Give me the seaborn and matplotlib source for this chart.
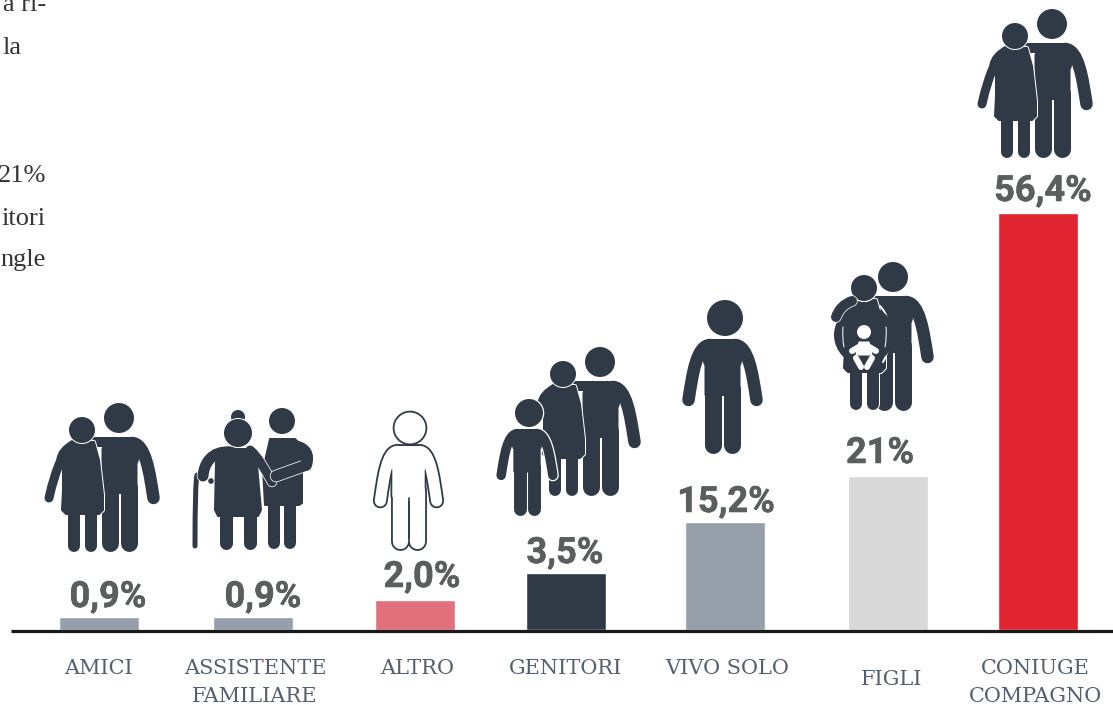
import matplotlib
matplotlib.use("Agg")
import matplotlib.pyplot as plt
import matplotlib.patheffects as pe
import seaborn as sns
import pandas as pd
from matplotlib.path import Path
from matplotlib.patches import PathPatch, Circle, Polygon

# ---- data
categories = ["AMICI", "ASSISTENTE\nFAMILIARE", "ALTRO", "GENITORI", "VIVO SOLO", "FIGLI", "CONIUGE\nCOMPAGNO"]
value_labels = ["0,9%", "0,9%", "2,0%", "3,5%", "15,2%", "21%", "56,4%"]
bar_positions = [99, 253, 415, 566, 725, 888, 1038]
bar_heights = [13, 13, 30, 57, 108, 154, 417]   # drawn height, as in the reference
bar_colors = ["#979fab", "#979fab", "#e0717c", "#303a47", "#979fab", "#d9d9d9", "#e02431"]

# ---- placement of the texts (pixels of the picture)
value_x = [108, 263, 422, 565, 726, 880, 1043]
value_base = [608, 608, 588, 564, 513, 464, 202]
label_x = [99, 255, 417, 566, 727, 892, 1035]
label_base = [675, 675, 675, 675, 675, 686, 675]
side_text = [("a ri-", 46, 12), ("la", 21, 55), ("21%", 46, 183), ("itori", 46, 226), ("ngle", 46, 267)]

INK = "#303a47"
BASE = 631

sns.set_theme(style="white")
fig = plt.figure(figsize=(11.13, 7.05), dpi=100)
ax = fig.add_axes([0, 0, 1, 1])

df = pd.DataFrame({"pos": bar_positions, "h": bar_heights, "cat": categories})
sns.barplot(data=df, x="pos", y="h", hue="cat", palette=bar_colors, native_scale=True,
            dodge=False, width=80 / 150, legend=False, saturation=1, ax=ax, zorder=1)
ax.set_xlim(0, 1113)
ax.set_ylim(BASE - 706, BASE - 1)
ax.set_axis_off()
ax.hlines(-0.5, 11, 1113, color="#1a1a1a", lw=2.3, zorder=3)


def Y(py):
    return BASE - py


def xy(pts):
    return [(x, Y(y + 1)) for x, y in pts]


def px(w):
    return w * 0.72


def draw_stroke(pts, w, color):
    codes = {2: [Path.MOVETO, Path.LINETO],
             3: [Path.MOVETO, Path.CURVE3, Path.CURVE3],
             4: [Path.MOVETO, Path.CURVE4, Path.CURVE4, Path.CURVE4]}[len(pts)]
    ax.add_patch(PathPatch(Path(xy(pts), codes), fill=False, edgecolor=color, lw=px(w),
                           capstyle="round", joinstyle="round", zorder=5))


def render(parts, fill=INK, halo=None, grow=2.0):
    layers = [(halo, grow), (fill, 0)] if halo else [(fill, 0)]
    for col, g in layers:
        for kind, a, b in parts:
            if kind == "s":
                draw_stroke(a, b + g, col)
            elif kind == "c":
                ax.add_patch(Circle((a[0], Y(a[1] + 1)), b + g / 2, fc=col, ec="none", zorder=5))
            else:
                ax.add_patch(Polygon(xy(a), closed=True, fc=col, ec=col, lw=px(b + g),
                                     joinstyle="round", zorder=5))


def man(bx, sy, hx, hy, r, s=1.0, left=True, right=True, spread=1.0):
    h = 18 * s
    p = [("c", (hx, hy), r),
         ("p", [(bx - 13 * s, sy + 1), (bx + 13 * s, sy + 1), (bx + h - 1, sy + 12 * s), (bx + h - 1, sy + 56 * s),
                (bx - h + 1, sy + 56 * s), (bx - h + 1, sy + 12 * s)], 2)]
    leg = 8.5 * s
    for lx in (bx - h + leg, bx + h - leg):
        p.append(("s", [(lx, sy + 50 * s), (lx, sy + 114 * s - leg)], 17 * s))
    for side, on in ((-1, left), (1, right)):
        if on:
            p.append(("s", [(bx + side * 12 * s, sy + 6 * s), (bx + side * 26 * s * spread, sy + 6 * s),
                            (bx + side * 30 * s * spread, sy + 35 * s), (bx + side * 34 * s * spread, sy + 61 * s)],
                      12.5 * s))
            p.append(("p", [(bx + side * h, sy + 8 * s), (bx + side * 22 * s * spread, sy + 12 * s),
                            (bx + side * h, sy + 26 * s)], 1))
    return p


def woman(hx, hy, r=13, arm=True):
    d = [(-11, 12), (12, 12), (17, 30), (21, 65), (21, 80), (17, 84), (-16, 84), (-20, 80), (-19, 60), (-19, 32)]
    p = [("p", [(hx + a, hy + b) for a, b in d], 2)]
    for lx in (-8, 9):
        p.append(("s", [(hx + lx, hy + 75), (hx + lx, hy + 116)], 12))
    if arm:
        p.append(("s", [(hx - 21, hy + 30), (hx - 28, hy + 45), (hx - 33, hy + 68)], 9))
    p.append(("s", [(hx - 8, hy + 14), (hx - 20, hy + 21), (hx - 21, hy + 29)], 9))
    head = [("c", (hx, hy), r)]
    return p, head


def couple(hx, hy, dx=-37, dy=12, arm=True):
    render(man(hx + 0.5, hy + 19, hx, hy, 15, left=False))
    draw_stroke([(hx, hy + 24), (hx - 26, hy + 24)], 10, INK)
    body, head = woman(hx + dx, hy + dy, arm=arm)
    render(body, halo="white", grow=2)
    render(head, halo="white", grow=2)


# AMICI and CONIUGE
couple(119, 418)
couple(1052, 24)

# ASSISTENTE FAMILIARE
carer = [("c", (282, 421), 13),
         ("p", [(270, 439), (295, 439), (302, 446), (302, 503), (299, 505), (265, 505), (263, 470)], 2),
         ("s", [(274, 490), (274, 543)], 12), ("s", [(290, 490), (290, 543)], 12)]
render(carer)
draw_stroke([(195, 546), (195, 482), (197, 475)], 5, INK)
ax.add_patch(Circle((211, Y(482)), 2.8, fc=INK, ec="none", zorder=5))
old = [("p", [(225, 449), (250, 449), (257, 465), (261, 510), (258, 516), (218, 516), (215, 510), (216, 462)], 2),
       ("s", [(226, 505), (226, 543)], 13), ("s", [(250, 505), (250, 543)], 13),
       ("s", [(232, 452), (210, 450), (204, 465), (203, 476)], 11),
       ("s", [(250, 450), (258, 456), (265, 470), (272, 482)], 9)]
render(old, halo="white", grow=1.5)
render([("c", (238, 417), 7)])
render([("c", (238, 433), 14)], halo="white", grow=2)
render([("s", [(304, 466), (276, 476)], 11)], halo="white", grow=1.5)
draw_stroke([(294, 446), (311, 449), (306, 465)], 12, INK)

# ALTRO (outlined figure)
altro = man(408.5, 446, 410, 428, 15.5, s=0.9, spread=0.92)
render(altro, fill="white", halo=INK, grow=3.6)
draw_stroke([(408.5, 502), (408.5, 538)], 1.8, INK)

# GENITORI
couple(600, 362, arm=False)
render(man(527, 429, 529, 413, 14, s=0.76), halo="white", grow=2.5)

# VIVO SOLO
render(man(722.5, 339, 725, 318, 18))

# FIGLI
couple(893, 277, dx=-29, dy=11, arm=False)
draw_stroke([(880, 306), (892, 318), (893, 345), (883, 362)], 2, "white")
render([("c", (864, 335), 30)])
render([("c", (864, 288), 13)], halo="white", grow=2)
render([("s", [(852, 301), (840, 305), (836, 317)], 10)], halo="white", grow=1.5)
draw_stroke([(843, 327), (842, 337), (844, 347)], 1, "white")
draw_stroke([(886, 327), (887, 337), (885, 347)], 1, "white")
render([("c", (864, 332), 7),
        ("p", [(859, 342), (869, 342), (872, 355), (856, 355)], 1),
        ("s", [(862, 345), (852, 351)], 6), ("s", [(866, 345), (876, 351)], 6),
        ("s", [(856, 358), (861, 367)], 6), ("s", [(872, 358), (867, 367)], 6)], fill="white")

# ---- texts
heavy = [pe.withStroke(linewidth=0.4, foreground="#5b5e5e")]
for t, x, b in zip(value_labels, value_x, value_base):
    ax.text(x, Y(b), t, ha="center", va="baseline", family="Roboto", fontweight="bold",
            fontsize=26, color="#5b5e5e", zorder=6, path_effects=heavy)
for t, x, b in zip(categories, label_x, label_base):
    lines = t.split("\n")
    for i, line in enumerate(lines):
        ax.text(x, Y(b + 28 * i), line, ha="center", va="baseline", family="DejaVu Serif",
                fontsize=15, color="#55606f", zorder=6)
for t, x, b in side_text:
    ax.text(x, Y(b), t, ha="right", va="baseline", family="Liberation Serif",
            fontsize=19, color="#333333", zorder=6)

fig.savefig("out.png", dpi=100)
